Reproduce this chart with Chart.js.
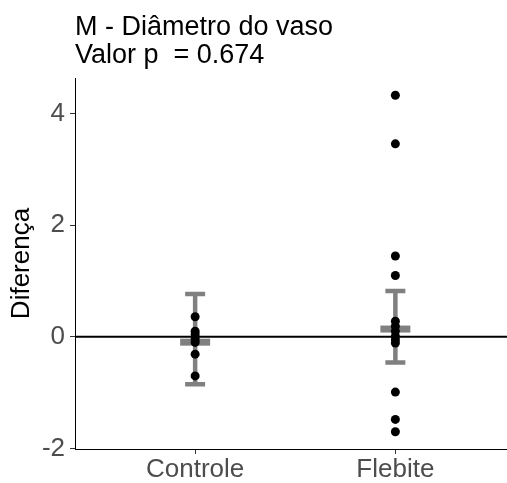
<!DOCTYPE html>
<html>
<head>
<meta charset="utf-8">
<script src="https://cdn.jsdelivr.net/npm/chart.js@4"></script>
<style>
  html, body { margin: 0; padding: 0; background: #fff; overflow: hidden; }
  #wrap { width: 507px; height: 483px; overflow: hidden; }
</style>
</head>
<body>
<div id="wrap"><canvas id="diffChart" width="512" height="483"></canvas></div>
<script>
  // categories and the per-group differences
  const categories = ["Controle", "Flebite"];
  const controle = [0.36, 0.1, 0.05, 0.0, -0.05, -0.1, -0.31, -0.7];
  const flebite = [4.33, 3.46, 1.45, 1.1, 0.28, 0.19, 0.1, 0.01, -0.05, -0.11, -0.99, -1.48, -1.7];

  // summary bars (centre, lower, upper) per category
  const centre = [-0.095, 0.14];
  const lower = [-0.85, -0.46];
  const upper = [0.77, 0.82];

  const yTicks = [-2, 0, 2, 4];
  const refLine = 0;
  const titleLines = ["M - Diâmetro do vaso", "Valor p  = 0.674"];

  const FONT = "'Liberation Sans', Arial, sans-serif";

  const points = [];
  controle.forEach(v => points.push({ x: 0, y: v }));
  flebite.forEach(v => points.push({ x: 1, y: v }));

  const summaryPlugin = {
    id: "summary",
    beforeDatasetsDraw(chart) {
      const { ctx, chartArea, scales } = chart;
      const x = scales.x, y = scales.y;
      ctx.save();

      // reference line at zero
      const y0 = y.getPixelForValue(refLine);
      ctx.strokeStyle = "#000";
      ctx.lineWidth = 2;
      ctx.beginPath();
      ctx.moveTo(chartArea.left, y0);
      ctx.lineTo(chart.width, y0);
      ctx.stroke();

      // error bars + crossbars
      ctx.strokeStyle = "#808080";
      ctx.fillStyle = "#808080";
      categories.forEach((c, i) => {
        const px = x.getPixelForValue(i);
        const top = y.getPixelForValue(upper[i]);
        const bot = y.getPixelForValue(lower[i]);
        const mid = y.getPixelForValue(centre[i]);
        ctx.lineWidth = 4.5;
        ctx.beginPath();
        ctx.moveTo(px, top);
        ctx.lineTo(px, bot);
        ctx.moveTo(px - 10, top);
        ctx.lineTo(px + 10, top);
        ctx.moveTo(px - 10, bot);
        ctx.lineTo(px + 10, bot);
        ctx.stroke();
        ctx.fillRect(px - 15, mid - 3.5, 30, 7);
      });
      ctx.restore();
    },
    afterDraw(chart) {
      const { ctx, chartArea } = chart;
      ctx.save();
      ctx.fillStyle = "#000";
      ctx.font = "27px " + FONT;
      ctx.textBaseline = "alphabetic";
      ctx.textAlign = "left";
      ctx.fillText(titleLines[0], chartArea.left, 35);
      ctx.fillText(titleLines[1], chartArea.left, 63);
      ctx.restore();
    }
  };

  const config = {
    type: "scatter",
    data: {
      datasets: [{
        data: points,
        backgroundColor: "#000",
        borderWidth: 0,
        pointRadius: 4.5,
        pointHoverRadius: 4.5
      }]
    },
    options: {
      responsive: false,
      animation: false,
      devicePixelRatio: 1,
      layout: { padding: { top: 78, left: 0, right: 0, bottom: 0 } },
      plugins: {
        legend: { display: false },
        tooltip: { enabled: false },
        title: { display: false }
      },
      scales: {
        x: {
          type: "linear",
          min: -0.6,
          max: 1.56,
          afterBuildTicks: s => { s.ticks = categories.map((c, i) => ({ value: i })); },
          afterFit: s => { s.height = 34; },
          ticks: {
            callback: v => categories[v],
            color: "#4d4d4d",
            font: { family: FONT, size: 26 },
            padding: 0,
            maxRotation: 0,
            autoSkip: false
          },
          grid: { drawOnChartArea: false, tickLength: 5, color: "#333" },
          border: { color: "#000", width: 1 }
        },
        y: {
          min: -2.01,
          max: 4.64,
          afterBuildTicks: s => { s.ticks = yTicks.map(v => ({ value: v })); },
          afterFit: s => { s.width = 75; },
          ticks: {
            color: "#4d4d4d",
            font: { family: FONT, size: 26 },
            padding: 5
          },
          grid: { drawOnChartArea: false, tickLength: 5, color: "#333" },
          border: { color: "#000", width: 1 },
          title: {
            display: true,
            text: "Diferença",
            color: "#000",
            font: { family: FONT, size: 26 },
            padding: { top: 6, bottom: 0 }
          }
        }
      }
    },
    plugins: [summaryPlugin]
  };

  new Chart(document.getElementById("diffChart"), config);
</script>
</body>
</html>
